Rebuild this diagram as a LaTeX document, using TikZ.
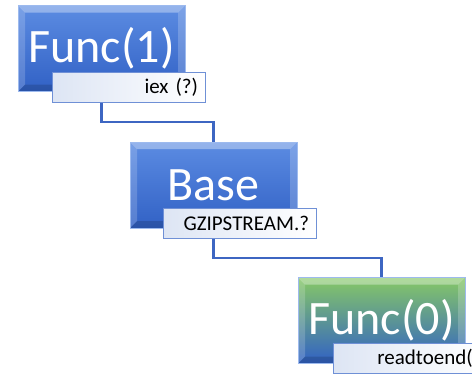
\documentclass[tikz,border=0pt]{standalone}
\usepackage{fontspec}
\setmainfont{Carlito}
\usetikzlibrary{calc,backgrounds}
\definecolor{boxtop}{HTML}{5C8CE2}
\definecolor{boxbot}{HTML}{3161C5}
\definecolor{greentop}{HTML}{86C866}
\definecolor{linkblue}{HTML}{3D66C2}
\definecolor{tagleft}{HTML}{DDE5F4}
\definecolor{tagedge}{HTML}{6F90D6}
\begin{document}
\begin{tikzpicture}[x=1pt, y=-1pt,
    funcbox/.style={rectangle, minimum width=167pt, minimum height=86pt, inner sep=0pt,
        top color=boxtop, bottom color=boxbot, draw=boxtop!60!white, line width=0.8pt,
        text=white, font=\fontsize{48}{48}\selectfont,
        path picture={
            \path (path picture bounding box.north west) coordinate (pw)
                  (path picture bounding box.south east) coordinate (pe);
            \fill[white, opacity=0.35] (pw) -- (pe |- pw) -- ([shift={(-7pt,-7pt)}]pe |- pw)
                -- ([shift={(7pt,-7pt)}]pw) -- cycle;
            \fill[white, opacity=0.18] (pw) -- ([shift={(7pt,-7pt)}]pw)
                -- ([shift={(7pt,7pt)}]pw |- pe) -- (pw |- pe) -- cycle;
            \fill[white, opacity=0.2] (pe |- pw) -- ([shift={(-7pt,-7pt)}]pe |- pw)
                -- ([shift={(-7pt,7pt)}]pe) -- (pe) -- cycle;
            \fill[black, opacity=0.15] (pw |- pe) -- ([shift={(7pt,7pt)}]pw |- pe)
                -- ([shift={(-7pt,7pt)}]pe) -- (pe) -- cycle;
        }},
    greenbox/.style={funcbox, top color=greentop, middle color=boxtop, bottom color=boxbot},
    tagbox/.style={rectangle, anchor=north west, minimum width=153pt, minimum height=30pt,
        text width=139pt, inner xsep=7pt, inner ysep=0pt, align=right,
        left color=tagleft, right color=white, draw=tagedge, line width=0.9pt,
        font=\fontsize{21}{22}\selectfont},
    link/.style={draw=linkblue, line width=2.2pt}]
    % Khung
    \clip (0,0) rectangle (472,375);

    % Các khối
    \node[funcbox] (f1) at (101.5, 48.5) {Func(1)};
    \node[tagbox] (t1) at ([shift={(34pt,-67pt)}]f1.north west) {iex (?)};

    \node[funcbox] (f2) at (213.5, 185) {Base};
    \node[tagbox] (t2) at ([shift={(33pt,-66pt)}]f2.north west) {GZIPSTREAM.?};

    \node[greenbox] (f3) at (381.5, 320.5) {Func(0)};
    \node[tagbox] (t3) at ([shift={(35pt,-66pt)}]f3.north west) {readtoend()};

    % Đường nối
    \coordinate (k1) at ($(t1.south)!0.5!(f2.north)$);
    \coordinate (k2) at ($(t2.south)!0.5!(f3.north)$);
    \begin{scope}[on background layer]
        \draw[link] (f1.center) |- (k1) -| (f2.north);
        \draw[link] (f2.center) |- (k2) -| (f3.north);
    \end{scope}
\end{tikzpicture}
\end{document}
